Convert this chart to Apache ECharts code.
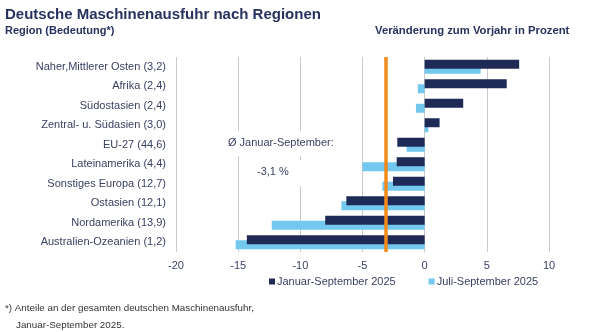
<!DOCTYPE html>
<html><head><meta charset="utf-8">
<script src="https://cdn.jsdelivr.net/npm/echarts@6/dist/echarts.min.js"></script>
<style>html,body{margin:0;padding:0;background:#fff}#c{width:595px;height:332px}</style>
</head><body><div id="c"></div>
<script>
var categories = ["Naher,Mittlerer Osten (3,2)","Afrika (2,4)","Südostasien (2,4)","Zentral- u. Südasien (3,0)","EU-27 (44,6)","Lateinamerika (4,4)","Sonstiges Europa (12,7)","Ostasien (12,1)","Nordamerika (13,9)","Australien-Ozeanien (1,2)"];
var janSep = [7.6, 6.6, 3.1, 1.2, -2.2, -2.25, -2.55, -6.3, -8.0, -14.3];
var julSep = [4.5, -0.55, -0.7, 0.3, -1.45, -5.0, -3.4, -6.7, -12.3, -15.2];
var average = -3.1;
var xTicks = {min: -20, max: 10, interval: 5};
var seriesNames = ["Januar-September 2025", "Juli-September 2025"];

var FONT = "Liberation Sans, Arial, sans-serif";
var NAVY = "#1f2b57", LIGHT = "#72c8ef", TXT = "#3b4163";
var chart = echarts.init(document.getElementById('c'), null, {renderer: 'canvas'});
chart.setOption({
  animation: false,
  textStyle: {fontFamily: FONT},
  grid: {left: 176, right: 46, top: 57, bottom: 80},
  xAxis: {
    type: 'value', min: xTicks.min, max: xTicks.max, interval: xTicks.interval,
    axisLine: {show: false}, axisTick: {show: false},
    splitLine: {lineStyle: {color: '#c9c9c9', width: 1}},
    axisLabel: {color: TXT, fontSize: 11, fontFamily: FONT, margin: 8}
  },
  yAxis: {
    type: 'category', data: categories, inverse: true,
    axisLine: {show: false}, axisTick: {show: false},
    axisLabel: {color: TXT, fontSize: 11, fontFamily: FONT, margin: 10}
  },
  legend: {
    data: seriesNames, left: 264, top: 271, itemWidth: 6, itemHeight: 6, itemGap: 33,
    icon: 'rect', textStyle: {color: TXT, fontSize: 11, fontFamily: FONT, padding: [0,0,0,-3]}
  },
  series: [
    {name: seriesNames[0], type: 'bar', data: janSep, barWidth: 9, barGap: '-44%', z: 3,
     itemStyle: {color: NAVY},
     markLine: {silent: true, symbol: 'none', label: {show: false},
       lineStyle: {color: '#f28a1c', width: 3.5, type: 'solid'},
       data: [{xAxis: average}], z: 5}},
    {name: seriesNames[1], type: 'bar', data: julSep, barWidth: 9, z: 2,
     itemStyle: {color: LIGHT}}
  ],
  graphic: [
    {type: 'text', left: 5, top: 7, style: {text: 'Deutsche Maschinenausfuhr nach Regionen', font: 'bold 15px ' + FONT, fill: '#27325f'}},
    {type: 'text', left: 5, top: 25, style: {text: 'Region (Bedeutung*)', font: 'bold 11px ' + FONT, fill: '#27325f'}},
    {type: 'text', left: 375, top: 25, style: {text: 'Veränderung zum Vorjahr in Prozent', font: 'bold 11.3px ' + FONT, fill: '#27325f'}},
    {type: 'rect', shape: {x: 226, y: 131, width: 110, height: 25}, style: {fill: '#fff'}, z: 10},
    {type: 'rect', shape: {x: 250, y: 160, width: 56, height: 26}, style: {fill: '#fff'}, z: 10},
    {type: 'text', left: 228, top: 137, z: 11, style: {text: 'Ø Januar-September:', font: '11px ' + FONT, fill: TXT}},
    {type: 'text', left: 257, top: 166, z: 11, style: {text: '-3,1 %', font: '11px ' + FONT, fill: TXT}},
    {type: 'text', left: 5, top: 303, style: {text: '*) Anteile an der gesamten deutschen Maschinenausfuhr,', font: '9.8px ' + FONT, fill: '#333'}},
    {type: 'text', left: 16, top: 320, style: {text: 'Januar-September 2025.', font: '9.8px ' + FONT, fill: '#333'}}
  ]
});
</script></body></html>
